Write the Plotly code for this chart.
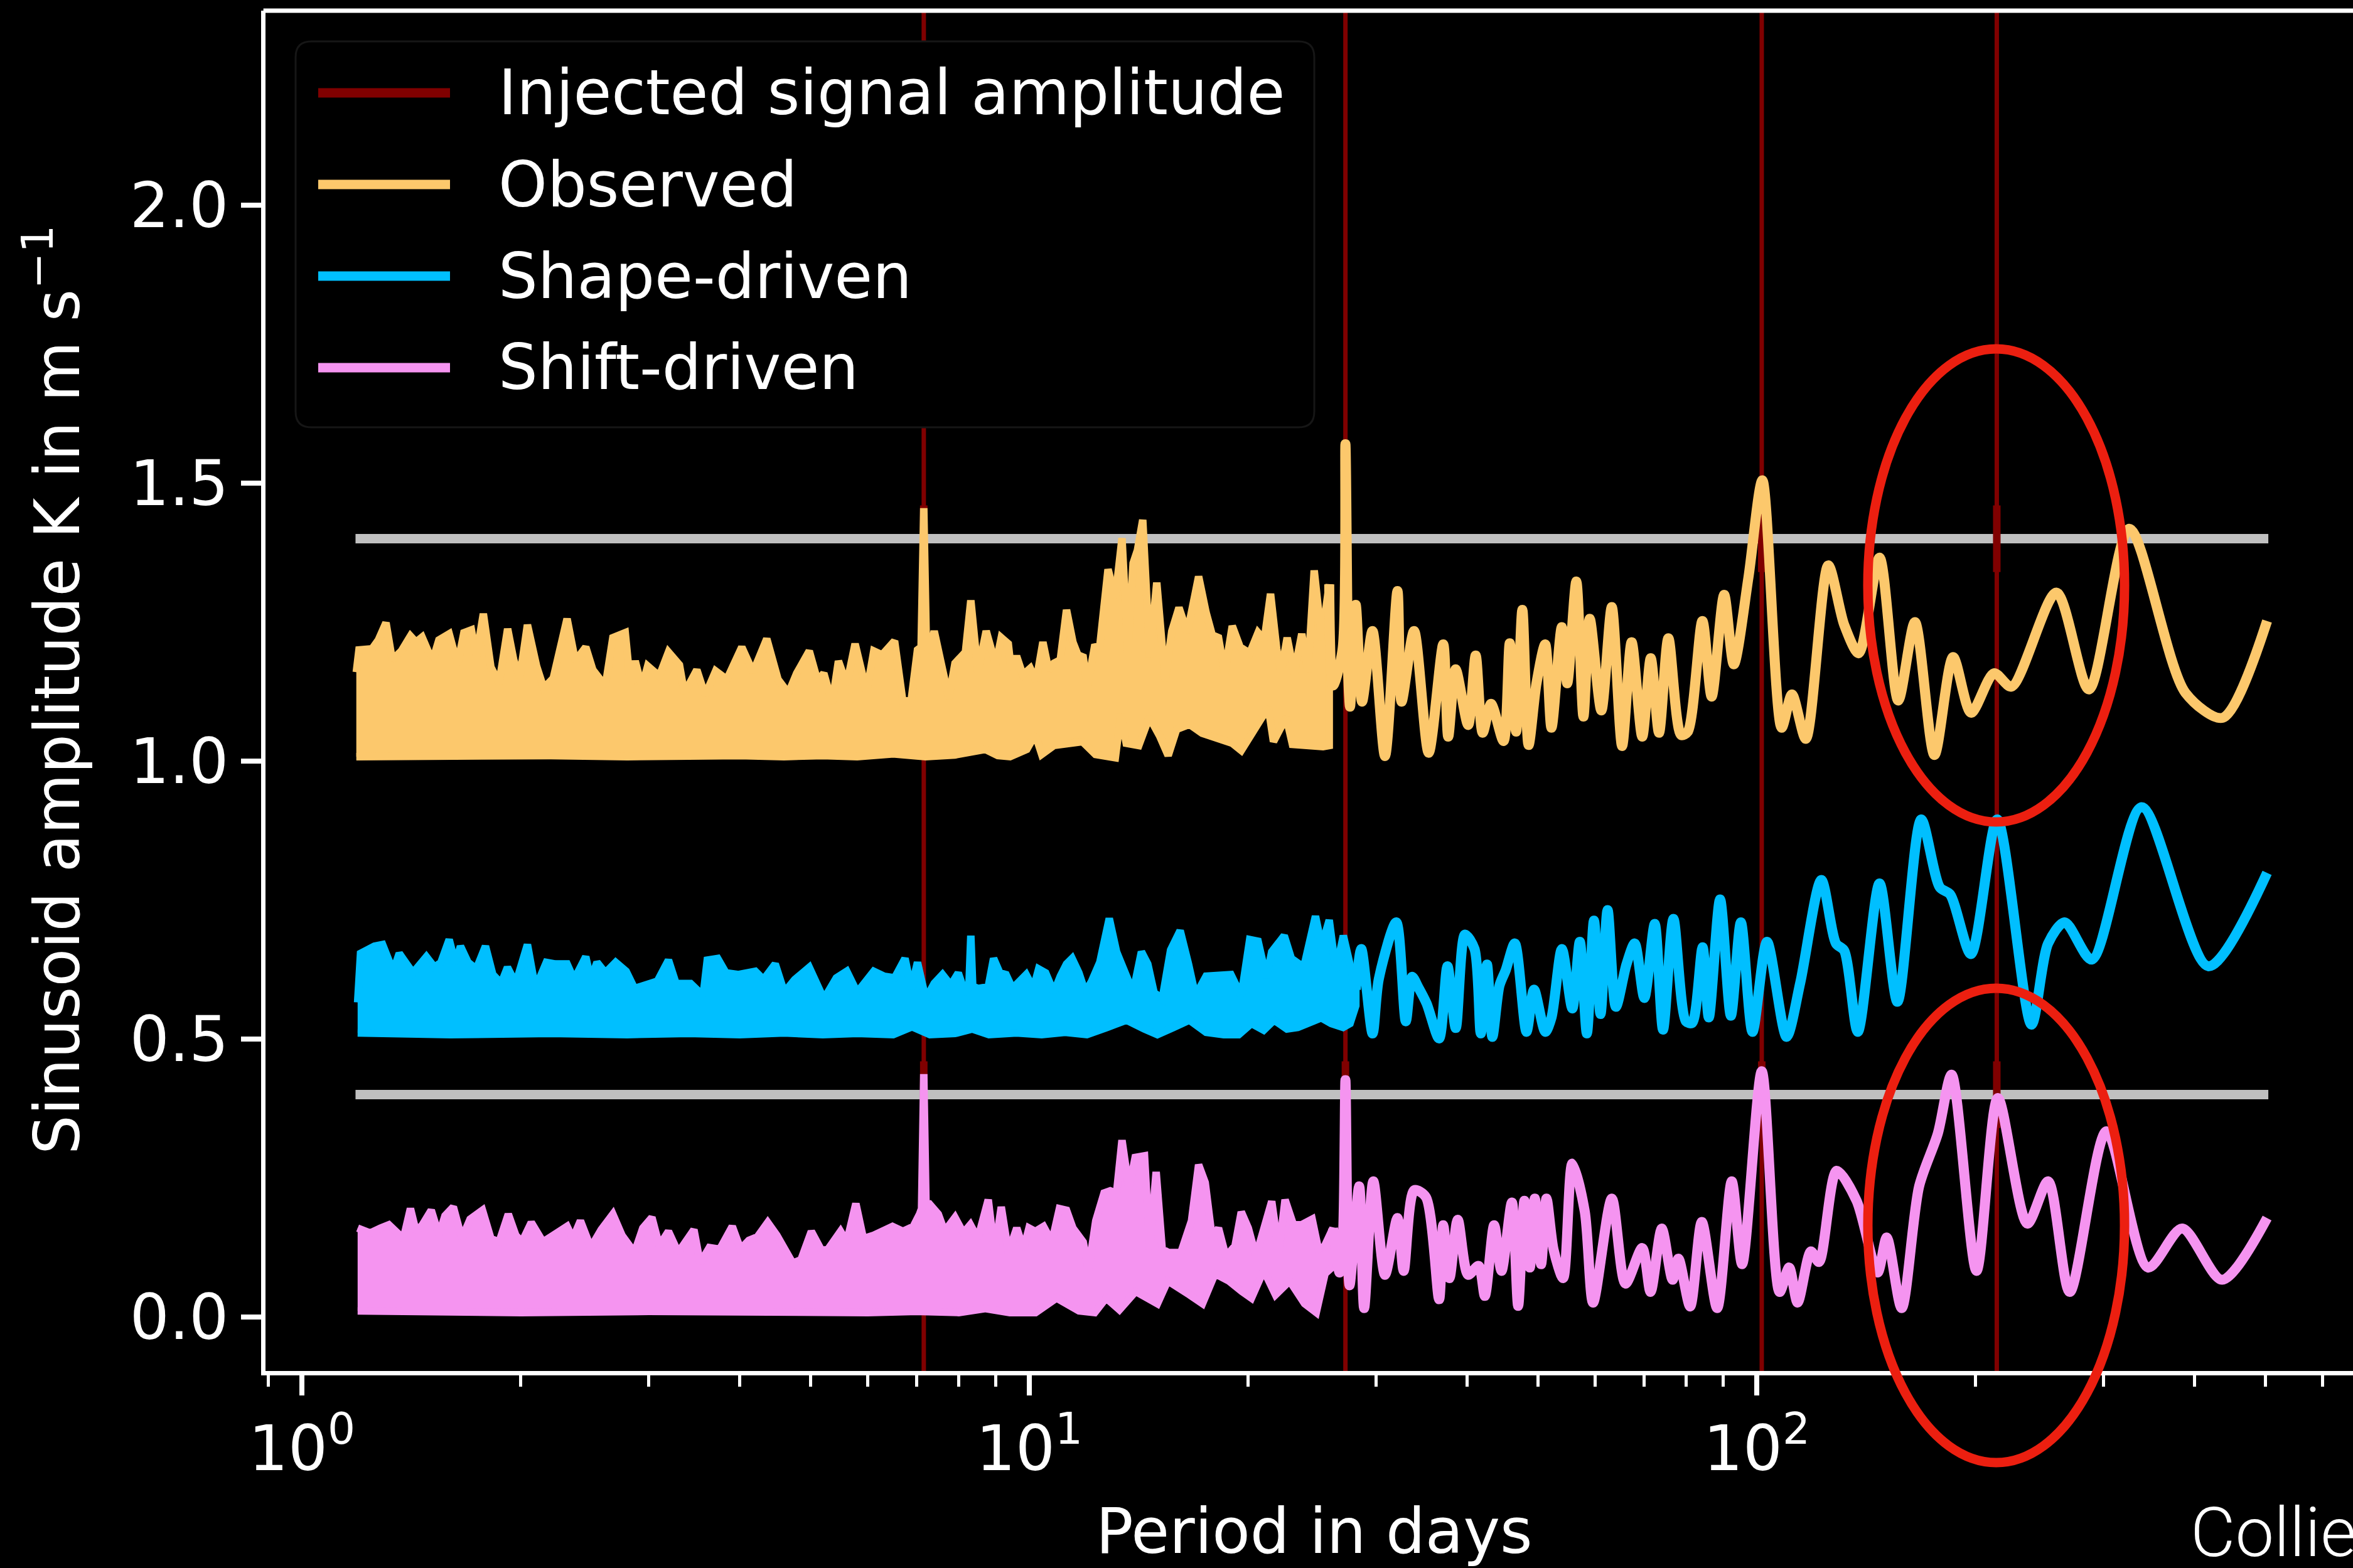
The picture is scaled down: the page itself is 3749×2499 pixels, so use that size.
import plotly.graph_objects as go

# ---------------------------------------------------------------- data ----
# Periods (days) of the injected sinusoids and the injected amplitude band
injected_periods = [7.16, 27.2, 101.6, 213.8]
injected_levels = [1.4, 0.4]
injected_halfwidth = 0.06
level_span = [1.185, 505.0]

# Observed periodogram: unresolved short-period part as upper / lower envelope
obs_dense_top = [
    (1.188, 1.160), (1.198, 1.200), (1.249, 1.202), (1.274, 1.218), (1.305, 1.249),
    (1.331, 1.182), (1.370, 1.198), (1.410, 1.225), (1.435, 1.214), (1.463, 1.223),
    (1.493, 1.196), (1.518, 1.187), (1.543, 1.218), (1.594, 1.229), (1.637, 1.173),
    (1.670, 1.231), (1.710, 1.236), (1.737, 1.187), (1.776, 1.265), (1.819, 1.169),
    (1.867, 1.140), (1.918, 1.238), (1.955, 1.182), (1.994, 1.151), (2.042, 1.245),
    (2.102, 1.171), (2.150, 1.131), (2.216, 1.149), (2.315, 1.256), (2.376, 1.180),
    (2.456, 1.205), (2.512, 1.164), (2.613, 1.135), (2.676, 1.222), (2.783, 1.231),
    (2.828, 1.138), (2.872, 1.180), (2.934, 1.133), (2.988, 1.171), (3.100, 1.153),
    (3.191, 1.196), (3.304, 1.173), (3.356, 1.122), (3.491, 1.164), (3.584, 1.118),
    (3.705, 1.162), (3.839, 1.147), (4.025, 1.205), (4.171, 1.160), (4.356, 1.220),
    (4.514, 1.147), (4.665, 1.122), (4.789, 1.158), (4.983, 1.198), (5.117, 1.144),
    (5.218, 1.158), (5.358, 1.104), (5.465, 1.180), (5.611, 1.138), (5.761, 1.211),
    (5.977, 1.124), (6.112, 1.198), (6.275, 1.191), (6.528, 1.216), (6.703, 1.106),
    (6.882, 1.111), (7.019, 1.200), (7.100, 1.205), (7.160, 1.455), (7.220, 1.205),
    (7.303, 1.200), (7.400, 1.234), (7.548, 1.182), (7.750, 1.113), (7.904, 1.176),
    (8.169, 1.196), (8.310, 1.289), (8.498, 1.160), (8.724, 1.234), (8.990, 1.173),
    (9.150, 1.222), (9.356, 1.211), (9.443, 1.164), (9.605, 1.189), (9.797, 1.155),
    (10.03, 1.167), (10.22, 1.144), (10.44, 1.214), (10.63, 1.164), (10.81, 1.176),
    (11.03, 1.182), (11.25, 1.272), (11.48, 1.214), (11.66, 1.191), (11.86, 1.187),
    (12.02, 1.133), (12.29, 1.205), (12.50, 1.207), (12.83, 1.345), (13.13, 1.294),
    (13.41, 1.401), (13.66, 1.196), (13.89, 1.356), (14.08, 1.379), (14.32, 1.434),
    (14.64, 1.187), (14.97, 1.321), (15.37, 1.144), (15.70, 1.234), (16.06, 1.276),
    (16.49, 1.231), (17.09, 1.332), (17.50, 1.267), (17.84, 1.227), (18.20, 1.222),
    (18.56, 1.158), (19.01, 1.243), (19.49, 1.205), (20.09, 1.194), (20.63, 1.231),
    (21.04, 1.218), (21.46, 1.301), (21.88, 1.202), (22.18, 1.158), (22.62, 1.222),
    (23.13, 1.158), (23.69, 1.229), (24.16, 1.160), (24.64, 1.343), (25.23, 1.218),
    (25.84, 1.318),
]
obs_dense_bottom = [
    (1.188, 1.008), (1.6, 1.008), (2.2, 1.010), (2.8, 1.008), (3.4, 1.008),
    (4.0, 1.010), (4.6, 1.008), (5.2, 1.010), (5.8, 1.008), (6.5, 1.013),
    (7.2, 1.008), (7.9, 1.011), (8.70, 1.021), (9.05, 1.010), (9.41, 1.008),
    (9.92, 1.021), (10.19, 1.048), (10.40, 1.012), (10.81, 1.028), (11.30, 1.030),
    (11.83, 1.035), (12.33, 1.012), (12.75, 1.008), (13.13, 1.006), (13.36, 1.084),
    (13.59, 1.032), (14.14, 1.028), (14.62, 1.079), (15.12, 1.044), (15.52, 1.010),
    (15.94, 1.057), (16.61, 1.066), (17.28, 1.050), (18.00, 1.044), (19.01, 1.032),
    (19.56, 1.019), (20.24, 1.052), (21.31, 1.097), (21.66, 1.035), (22.55, 1.079),
    (23.00, 1.030), (24.27, 1.028), (25.34, 1.026), (25.84, 1.028),
]
obs_tail = [
    (25.84, 1.318), (26.15, 1.136), (26.95, 1.200), (27.2, 1.570), (27.45, 1.150),
    (27.6, 1.098), (28.1, 1.281), (28.67, 1.107), (29.63, 1.234), (30.83, 1.009),
    (32.07, 1.306), (32.49, 1.107), (33.8, 1.234), (35.4, 1.015), (37.07, 1.210),
    (37.66, 1.044), (38.56, 1.165), (40.11, 1.065), (41.08, 1.190), (42.0, 1.051),
    (43.13, 1.103), (44.87, 1.036), (45.76, 1.212), (46.69, 1.053), (47.62, 1.272),
    (48.57, 1.029), (49.8, 1.140), (51.19, 1.210), (52.22, 1.060), (53.95, 1.241),
    (54.89, 1.140), (56.49, 1.323), (57.78, 1.080), (58.94, 1.256), (61.15, 1.091),
    (63.2, 1.277), (65.3, 1.027), (67.3, 1.214), (69.6, 1.044), (71.5, 1.185),
    (73.4, 1.051), (75.6, 1.221), (78.7, 1.047), (80.4, 1.053), (84.2, 1.252),
    (86.7, 1.116), (90.2, 1.299), (93.0, 1.174), (97.4, 1.330), (101.8, 1.505),
    (108.2, 1.060), (111.8, 1.120), (116.8, 1.040), (125.4, 1.352), (131.9, 1.245),
    (138.1, 1.194), (147.5, 1.366), (156.5, 1.109), (165.0, 1.250), (175.5, 1.011),
    (186.2, 1.187), (197.1, 1.087), (211.9, 1.158), (224.0, 1.134), (258.2, 1.303),
    (286.2, 1.129), (325.2, 1.418), (388.4, 1.123), (437.3, 1.078), (503.0, 1.252),
]

# Shape-driven periodogram
shape_dense_top = [
    (1.193, 0.566), (1.204, 0.654), (1.258, 0.667), (1.291, 0.670), (1.335, 0.622),
    (1.361, 0.654), (1.421, 0.619), (1.483, 0.648), (1.522, 0.629), (1.553, 0.638),
    (1.594, 0.679), (1.626, 0.635), (1.652, 0.667), (1.692, 0.638), (1.737, 0.626),
    (1.788, 0.667), (1.830, 0.616), (1.879, 0.600), (1.917, 0.629), (1.968, 0.600),
    (2.042, 0.670), (2.094, 0.591), (2.168, 0.638), (2.231, 0.635), (2.315, 0.635),
    (2.367, 0.607), (2.456, 0.648), (2.495, 0.607), (2.545, 0.638), (2.613, 0.619),
    (2.700, 0.638), (2.791, 0.622), (2.866, 0.591), (3.081, 0.604), (3.191, 0.642),
    (3.268, 0.600), (3.422, 0.600), (3.561, 0.578), (3.608, 0.642), (3.729, 0.645),
    (3.828, 0.619), (3.983, 0.616), (4.201, 0.622), (4.312, 0.607), (4.474, 0.635),
    (4.605, 0.584), (4.759, 0.607), (4.983, 0.629), (5.218, 0.572), (5.429, 0.610),
    (5.611, 0.622), (5.799, 0.584), (6.112, 0.622), (6.317, 0.613), (6.528, 0.610),
    (6.747, 0.645), (6.882, 0.591), (7.019, 0.638), (7.206, 0.572), (7.400, 0.600),
    (7.597, 0.616), (7.799, 0.597), (7.986, 0.619), (8.169, 0.581), (8.260, 0.595),
    (8.310, 0.686), (8.360, 0.595), (8.498, 0.591), (8.781, 0.594), (8.93, 0.645),
    (9.11, 0.619), (9.29, 0.616), (9.48, 0.591), (9.67, 0.604), (9.90, 0.616),
    (10.13, 0.591), (10.30, 0.626), (10.53, 0.619), (10.81, 0.584), (11.03, 0.613),
    (11.25, 0.635), (11.45, 0.645), (11.70, 0.619), (11.94, 0.584), (12.18, 0.604),
    (12.50, 0.638), (12.88, 0.717), (13.18, 0.657), (13.53, 0.619), (13.89, 0.584),
    (14.26, 0.657), (14.55, 0.635), (14.84, 0.584), (15.23, 0.572), (15.64, 0.660),
    (16.12, 0.695), (16.55, 0.635), (16.92, 0.578), (17.50, 0.613), (18.20, 0.613),
    (18.93, 0.616), (19.56, 0.578), (20.09, 0.679), (20.63, 0.676), (21.18, 0.610),
    (21.54, 0.657), (22.41, 0.686), (22.92, 0.645), (23.84, 0.629), (24.74, 0.721),
    (25.23, 0.667), (25.84, 0.714), (26.39, 0.622), (27.02, 0.686), (27.56, 0.629),
    (28.11, 0.589),
]
shape_dense_bottom = [
    (1.193, 0.511), (1.6, 0.508), (2.2, 0.510), (2.8, 0.508), (3.4, 0.510),
    (4.0, 0.508), (4.6, 0.511), (5.2, 0.508), (5.8, 0.510), (6.5, 0.508),
    (6.9, 0.522), (7.3, 0.508), (7.9, 0.510), (8.35, 0.518), (8.8, 0.508),
    (9.6, 0.511), (10.4, 0.508), (11.2, 0.512), (12.0, 0.508), (12.8, 0.521),
    (13.6, 0.534), (14.4, 0.518), (15.0, 0.508), (15.8, 0.521), (16.6, 0.534),
    (17.5, 0.512), (18.5, 0.508), (19.4, 0.508), (20.2, 0.528), (21.0, 0.516),
    (21.7, 0.534), (22.6, 0.518), (23.4, 0.521), (24.3, 0.531), (25.2, 0.538),
    (26.0, 0.528), (27.0, 0.521), (27.6, 0.528), (28.11, 0.560),
]
shape_tail = [
    (28.11, 0.589), (28.60, 0.662), (29.64, 0.510), (30.23, 0.608), (31.95, 0.710),
    (32.93, 0.532), (33.59, 0.612), (34.26, 0.593), (35.17, 0.564), (36.59, 0.501),
    (37.57, 0.631), (38.57, 0.520), (39.71, 0.688), (40.93, 0.662), (41.75, 0.510),
    (42.58, 0.634), (43.31, 0.504), (44.29, 0.596), (45.18, 0.624), (46.50, 0.672),
    (48.25, 0.513), (49.41, 0.589), (51.21, 0.513), (52.23, 0.539), (53.97, 0.662),
    (55.78, 0.555), (57.12, 0.675), (58.41, 0.510), (59.73, 0.713), (60.99, 0.545),
    (62.37, 0.732), (64.03, 0.558), (66.2, 0.634), (67.96, 0.672), (70.06, 0.574),
    (72.41, 0.707), (74.33, 0.517), (76.82, 0.716), (79.92, 0.532), (81.52, 0.529),
    (84.25, 0.665), (85.93, 0.539), (89.04, 0.751), (92.14, 0.542), (95.11, 0.710),
    (98.67, 0.513), (103.3, 0.675), (109.9, 0.504), (114.8, 0.602), (122.7, 0.786),
    (128.5, 0.672), (131.9, 0.659), (137.7, 0.513), (147.5, 0.780), (156.1, 0.567),
    (168.3, 0.895), (178.5, 0.773), (184.5, 0.760), (197.0, 0.653), (214.1, 0.895),
    (238.6, 0.526), (251.5, 0.672), (265.1, 0.710), (288.8, 0.643), (338.2, 0.917),
    (417.7, 0.631), (503.0, 0.799),
]

# Shift-driven periodogram
shift_dense_top = [
    (1.193, 0.160), (1.241, 0.151), (1.283, 0.160), (1.317, 0.166), (1.379, 0.141),
    (1.410, 0.195), (1.435, 0.154), (1.463, 0.165), (1.506, 0.192), (1.543, 0.147),
    (1.573, 0.182), (1.615, 0.198), (1.659, 0.141), (1.703, 0.176), (1.771, 0.192),
    (1.819, 0.141), (1.867, 0.135), (1.922, 0.185), (1.968, 0.147), (2.007, 0.135),
    (2.067, 0.170), (2.145, 0.135), (2.216, 0.147), (2.315, 0.163), (2.358, 0.141),
    (2.415, 0.173), (2.495, 0.125), (2.579, 0.157), (2.676, 0.185), (2.754, 0.147),
    (2.866, 0.116), (2.942, 0.160), (3.028, 0.179), (3.100, 0.128), (3.191, 0.154),
    (3.291, 0.116), (3.356, 0.132), (3.459, 0.157), (3.528, 0.097), (3.632, 0.125),
    (3.754, 0.122), (3.905, 0.163), (4.009, 0.122), (4.116, 0.138), (4.227, 0.144),
    (4.369, 0.170), (4.497, 0.147), (4.605, 0.122), (4.728, 0.097), (4.854, 0.103),
    (5.016, 0.154), (5.184, 0.119), (5.288, 0.122), (5.501, 0.154), (5.611, 0.135),
    (5.775, 0.204), (5.914, 0.141), (6.112, 0.147), (6.275, 0.154), (6.485, 0.163),
    (6.703, 0.154), (6.928, 0.163), (7.066, 0.185), (7.110, 0.195), (7.160, 0.437),
    (7.210, 0.205), (7.283, 0.204), (7.497, 0.185), (7.647, 0.154), (7.904, 0.179),
    (8.116, 0.151), (8.298, 0.166), (8.498, 0.141), (8.781, 0.211), (8.96, 0.116),
    (9.15, 0.198), (9.36, 0.116), (9.61, 0.160), (9.82, 0.122), (9.99, 0.160),
    (10.19, 0.154), (10.46, 0.163), (10.74, 0.135), (11.00, 0.195), (11.25, 0.192),
    (11.48, 0.160), (11.86, 0.135), (12.06, 0.084), (12.34, 0.173), (12.67, 0.223),
    (12.92, 0.227), (13.18, 0.223), (13.41, 0.318), (13.71, 0.230), (13.98, 0.287),
    (14.40, 0.290), (14.64, 0.122), (14.94, 0.261), (15.23, 0.122), (15.54, 0.116),
    (16.16, 0.116), (16.71, 0.173), (17.09, 0.274), (17.45, 0.242), (17.84, 0.141),
    (18.20, 0.160), (18.63, 0.109), (19.18, 0.128), (19.56, 0.189), (20.00, 0.160),
    (20.49, 0.109), (20.98, 0.160), (21.54, 0.208), (22.03, 0.116), (22.47, 0.211),
    (23.07, 0.166), (23.69, 0.166), (24.48, 0.176), (24.97, 0.122), (25.47, 0.128),
    (26.15, 0.160),
]
shift_dense_bottom = [
    (1.193, 0.011), (2.0, 0.008), (3.0, 0.010), (4.0, 0.008), (5.0, 0.009),
    (6.0, 0.008), (7.0, 0.010), (8.0, 0.008), (8.7, 0.015), (9.4, 0.008),
    (10.2, 0.008), (10.9, 0.034), (11.7, 0.011), (12.3, 0.008), (12.75, 0.034),
    (13.3, 0.013), (14.0, 0.046), (15.0, 0.024), (15.5, 0.065), (16.6, 0.040),
    (17.3, 0.024), (18.0, 0.078), (18.8, 0.065), (19.6, 0.046), (20.2, 0.034),
    (21.0, 0.084), (21.8, 0.040), (22.8, 0.065), (23.9, 0.024), (24.8, 0.008),
    (25.5, 0.078), (26.15, 0.091),
]
shift_tail = [
    (26.15, 0.160), (26.7, 0.080), (27.0, 0.150), (27.2, 0.426), (27.4, 0.120),
    (27.56, 0.057), (28.41, 0.235), (28.86, 0.016), (29.71, 0.244), (30.83, 0.076),
    (32.07, 0.178), (32.71, 0.083), (33.81, 0.228), (35.08, 0.216), (36.59, 0.032),
    (37.07, 0.165), (37.81, 0.070), (38.81, 0.175), (40.11, 0.076), (41.46, 0.092),
    (42.29, 0.038), (43.55, 0.165), (44.58, 0.083), (46.07, 0.206), (46.99, 0.020),
    (47.93, 0.209), (48.76, 0.089), (49.54, 0.213), (50.53, 0.095), (51.40, 0.213),
    (52.57, 0.121), (54.18, 0.070), (55.78, 0.276), (58.02, 0.190), (59.57, 0.026),
    (63.21, 0.213), (66.0, 0.060), (69.59, 0.124), (71.46, 0.045), (74.04, 0.159),
    (76.62, 0.067), (78.05, 0.105), (81.0, 0.019), (84.04, 0.171), (88.23, 0.016),
    (92.39, 0.244), (95.48, 0.095), (101.6, 0.442), (107.5, 0.045), (110.8, 0.089),
    (113.8, 0.026), (118.7, 0.118), (121.8, 0.099), (128.8, 0.263), (137.2, 0.209),
    (146.6, 0.080), (150.9, 0.143), (158.2, 0.016), (167.2, 0.235), (177.4, 0.330),
    (185.3, 0.436), (200.5, 0.083), (214.5, 0.394), (235.5, 0.168), (251.5, 0.244),
    (269.3, 0.045), (302.5, 0.334), (345.1, 0.089), (384.4, 0.159), (436.3, 0.067),
    (503.0, 0.178),
]

x_major = [1, 10, 100]
x_major_text = ["10<sup>0</sup>", "10<sup>1</sup>", "10<sup>2</sup>"]
x_minor = [0.9, 2, 3, 4, 5, 6, 7, 8, 9, 20, 30, 40, 50, 60, 70, 80, 90,
           200, 300, 400, 500, 600]
y_major = [0.0, 0.5, 1.0, 1.5, 2.0]
y_major_text = ["0.0", "0.5", "1.0", "1.5", "2.0"]

legend_labels = ["Injected signal amplitude", "Observed", "Shape-driven", "Shift-driven"]

# --------------------------------------------------------------- style ----
W, H = 3749, 2499
PLOT_L, PLOT_R, PLOT_T, PLOT_B = 423, 3749, 17, 2185
FONT = "DejaVu Sans"
FS = 99
C_INJ = "#800000"
C_OBS = "#FCC86C"
C_SHAPE = "#00BFFF"
C_SHIFT = "#F594F0"
C_LEVEL = "#C0C0C0"
C_RING = "#EC1F10"
LW = 16


def px(xp):
    return (xp - PLOT_L) / (PLOT_R - PLOT_L)


def py(yp):
    return (PLOT_B - yp) / (PLOT_B - PLOT_T)


def unzip(pairs):
    return [p for p, _ in pairs], [v for _, v in pairs]


fig = go.Figure()

# horizontal reference levels
for lvl in injected_levels:
    fig.add_trace(go.Scatter(x=level_span, y=[lvl, lvl], mode="lines",
                             line=dict(color=C_LEVEL, width=15),
                             hoverinfo="skip", showlegend=False))

# injected periods: full-height marker plus amplitude band
for per in injected_periods:
    fig.add_trace(go.Scatter(x=[per, per], y=[-1, 3], mode="lines",
                             line=dict(color=C_INJ, width=7),
                             hoverinfo="skip", showlegend=False))
    for lvl in injected_levels:
        fig.add_trace(go.Scatter(x=[per, per],
                                 y=[lvl - injected_halfwidth, lvl + injected_halfwidth],
                                 mode="lines", line=dict(color=C_INJ, width=12),
                                 hoverinfo="skip", showlegend=False))


def add_series(top, bottom, tail, color, name):
    tx, ty = unzip(top)
    bx, by = unzip(bottom)
    fig.add_trace(go.Scatter(x=tx + bx[::-1], y=ty + by[::-1], mode="lines",
                             fill="toself", fillcolor=color,
                             line=dict(color=color, width=LW - 4),
                             hoverinfo="skip", showlegend=False, name=name))
    sx, sy = unzip(tail)
    fig.add_trace(go.Scatter(x=sx, y=sy, mode="lines",
                             line=dict(color=color, width=LW, shape="spline",
                                       smoothing=0.8),
                             showlegend=False, name=name))


add_series(obs_dense_top, obs_dense_bottom, obs_tail, C_OBS, "Observed")
add_series(shape_dense_top, shape_dense_bottom, shape_tail, C_SHAPE, "Shape-driven")
add_series(shift_dense_top, shift_dense_bottom, shift_tail, C_SHIFT, "Shift-driven")

shapes = []
annotations = []

# top frame line
shapes.append(dict(type="line", xref="paper", yref="paper", x0=-0.001, x1=1,
                   y0=1, y1=1, line=dict(color="white", width=7), layer="above"))

# legend frame with rounded corners
lx0, lx1, ly0, ly1 = px(471), px(2094), py(681), py(66)
rx, ry = 25 / (PLOT_R - PLOT_L), 25 / (PLOT_B - PLOT_T)
path = (f"M {lx0 + rx},{ly1} L {lx1 - rx},{ly1} Q {lx1},{ly1} {lx1},{ly1 - ry} "
        f"L {lx1},{ly0 + ry} Q {lx1},{ly0} {lx1 - rx},{ly0} L {lx0 + rx},{ly0} "
        f"Q {lx0},{ly0} {lx0},{ly0 + ry} L {lx0},{ly1 - ry} Q {lx0},{ly1} {lx0 + rx},{ly1} Z")
shapes.append(dict(type="path", xref="paper", yref="paper", path=path,
                   fillcolor="#000000", line=dict(color="#161616", width=3),
                   layer="above"))

legend_colors = [C_INJ, C_OBS, C_SHAPE, C_SHIFT]
legend_rows = [148, 294, 440, 586]
for label, col, row in zip(legend_labels, legend_colors, legend_rows):
    shapes.append(dict(type="line", xref="paper", yref="paper",
                       x0=px(507), x1=px(717), y0=py(row), y1=py(row),
                       line=dict(color=col, width=15), layer="above"))
    annotations.append(dict(xref="paper", yref="paper", x=px(792), y=py(row),
                            xanchor="left", yanchor="middle", showarrow=False,
                            text=label, font=dict(family=FONT, size=FS, color="white")))

# highlight rings around the 213-day region
for (y_top, y_bot) in [(556, 1310), (1575, 2331)]:
    shapes.append(dict(type="circle", xref="paper", yref="paper",
                       x0=px(2976), x1=px(3385), y0=py(y_bot), y1=py(y_top),
                       line=dict(color=C_RING, width=15), layer="above"))

# axis titles and credit
annotations.append(dict(xref="paper", yref="paper", x=px(2094), y=py(2440),
                        xanchor="center", yanchor="middle", showarrow=False,
                        text="Period in days",
                        font=dict(family=FONT, size=FS, color="white")))
annotations.append(dict(xref="paper", yref="paper", x=px(84), y=py(1100),
                        xanchor="center", yanchor="middle", showarrow=False,
                        textangle=-90,
                        text="Sinusoid amplitude K in m s<sup>\u22121</sup>",
                        font=dict(family=FONT, size=FS, color="white")))
annotations.append(dict(xref="paper", yref="paper", x=px(3488), y=py(2443),
                        xanchor="left", yanchor="middle", showarrow=False,
                        text="Collier Cameron et al. (2021)",
                        font=dict(family="Roboto, Liberation Sans", size=110,
                                  color="white", weight=300)))

fig.update_layout(
    width=W, height=H,
    margin=dict(l=PLOT_L, r=W - PLOT_R, t=PLOT_T, b=H - PLOT_B, pad=0),
    paper_bgcolor="black", plot_bgcolor="black",
    showlegend=False,
    shapes=shapes, annotations=annotations,
    xaxis=dict(
        type="log", range=[-0.05004, 2.8197],
        showline=True, linecolor="white", linewidth=7,
        ticks="outside", ticklen=32, tickwidth=8, tickcolor="white",
        tickmode="array", tickvals=x_major, ticktext=x_major_text,
        tickfont=dict(family=FONT, size=FS, color="white"),
        showgrid=False, zeroline=False,
        minor=dict(ticks="outside", ticklen=18, tickwidth=5, tickcolor="white",
                   tickmode="array", tickvals=x_minor, showgrid=False),
    ),
    yaxis=dict(
        range=[-0.0971, 2.3499],
        showline=True, linecolor="white", linewidth=7,
        ticks="outside", ticklen=32, tickwidth=8, tickcolor="white",
        tickmode="array", tickvals=y_major, ticktext=y_major_text,
        tickfont=dict(family=FONT, size=FS, color="white"),
        showgrid=False, zeroline=False,
    ),
)

fig.write_html("out.html", config={"displayModeBar": False})
